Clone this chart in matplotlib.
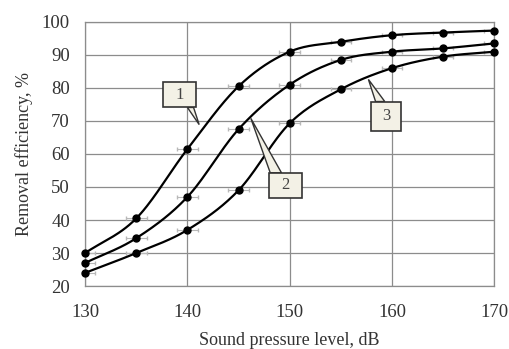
import numpy as np
import matplotlib
matplotlib.use("Agg")
import matplotlib.pyplot as plt
from matplotlib.patches import Polygon

spl = [130, 135, 140, 145, 150, 155, 160, 165, 170]
curve1 = [30, 40.5, 61.5, 80.5, 91, 94, 96, 96.8, 97.4]
curve2 = [27, 34.5, 47, 67.5, 81, 88.5, 91, 92, 93.5]
curve3 = [24, 30, 37, 49, 69.3, 79.6, 86, 89.5, 91]
xerr = 1.0

# callout label, box (x0, y0, x1, y1) and tip, in data units
labels = ["1", "2", "3"]
boxes = [(137.6, 74.1, 140.85, 81.7), (148.0, 46.7, 151.2, 54.3), (158.0, 67.1, 160.9, 75.9)]
tips = [(141.15, 68.9), (146.2, 70.8), (157.7, 82.6)]
bases = [(140.0, 140.6), (148.1, 149.2), (158.4, 159.3)]


def smooth(x, y, n=30):
    # catmull-rom like smoothing (like excel smoothed line)
    x = np.asarray(x, float)
    y = np.asarray(y, float)
    px = np.concatenate([[2 * x[0] - x[1]], x, [2 * x[-1] - x[-2]]])
    py = np.concatenate([[2 * y[0] - y[1]], y, [2 * y[-1] - y[-2]]])
    xs, ys = [], []
    t = np.linspace(0, 1, n)
    for i in range(1, len(px) - 2):
        b0x, b0y = px[i], py[i]
        b3x, b3y = px[i + 1], py[i + 1]
        b1x = b0x + (px[i + 1] - px[i - 1]) / 6
        b1y = b0y + (py[i + 1] - py[i - 1]) / 6
        b2x = b3x - (px[i + 2] - px[i]) / 6
        b2y = b3y - (py[i + 2] - py[i]) / 6
        xs.append((1 - t) ** 3 * b0x + 3 * (1 - t) ** 2 * t * b1x + 3 * (1 - t) * t ** 2 * b2x + t ** 3 * b3x)
        ys.append((1 - t) ** 3 * b0y + 3 * (1 - t) ** 2 * t * b1y + 3 * (1 - t) * t ** 2 * b2y + t ** 3 * b3y)
    return np.concatenate(xs), np.concatenate(ys)


plt.rcParams["font.family"] = ["Liberation Serif", "DejaVu Serif"]

fig = plt.figure(figsize=(5.10, 3.49), dpi=100)
ax = fig.add_axes([0.167, 0.1805, 0.802, 0.7565])

for y in [curve1, curve2, curve3]:
    ax.errorbar(spl, y, xerr=xerr, fmt="none", ecolor="#b8b8b8", elinewidth=0.8,
                capsize=1.5, zorder=2)
    sx, sy = smooth(spl, y)
    ax.plot(sx, sy, color="black", lw=1.6, zorder=3, clip_on=False)
    ax.plot(spl, y, "o", color="black", ms=5, zorder=4, clip_on=False)

for lab, (x0, y0, x1, y1), (tx, ty), (bx0, bx1) in zip(labels, boxes, tips, bases):
    if ty > y1:
        by = y1
    else:
        by = y0
    wedge = Polygon([(bx0, by), (tx, ty), (bx1, by)], closed=True,
                    facecolor="#f3f1e6", edgecolor="#333333", lw=1.0, zorder=5)
    ax.add_patch(wedge)
    box = Polygon([(x0, y0), (x1, y0), (x1, y1), (x0, y1)], closed=True,
                  facecolor="#f3f1e6", edgecolor="#333333", lw=1.2, zorder=6)
    ax.add_patch(box)
    ax.text((x0 + x1) / 2, (y0 + y1) / 2, lab, ha="center", va="center",
            fontsize=12, color="#444444", zorder=7)

ax.set_xlim(130, 170)
ax.set_ylim(20, 100)
ax.set_xticks(range(130, 171, 10))
ax.set_yticks(range(20, 101, 10))
ax.grid(True, color="#8c8c8c", lw=0.9)
ax.set_axisbelow(True)
for s in ax.spines.values():
    s.set_color("#8c8c8c")
    s.set_linewidth(0.9)
ax.tick_params(length=0, labelsize=13.5, colors="#333333")
ax.tick_params(axis="x", pad=13)
ax.tick_params(axis="y", pad=11)
ax.set_xlabel("Sound pressure level, dB", fontsize=13, color="#333333", labelpad=8)
ax.set_ylabel("Removal efficiency, %", fontsize=13, color="#333333", labelpad=6)

fig.savefig("out.png", dpi=100)
